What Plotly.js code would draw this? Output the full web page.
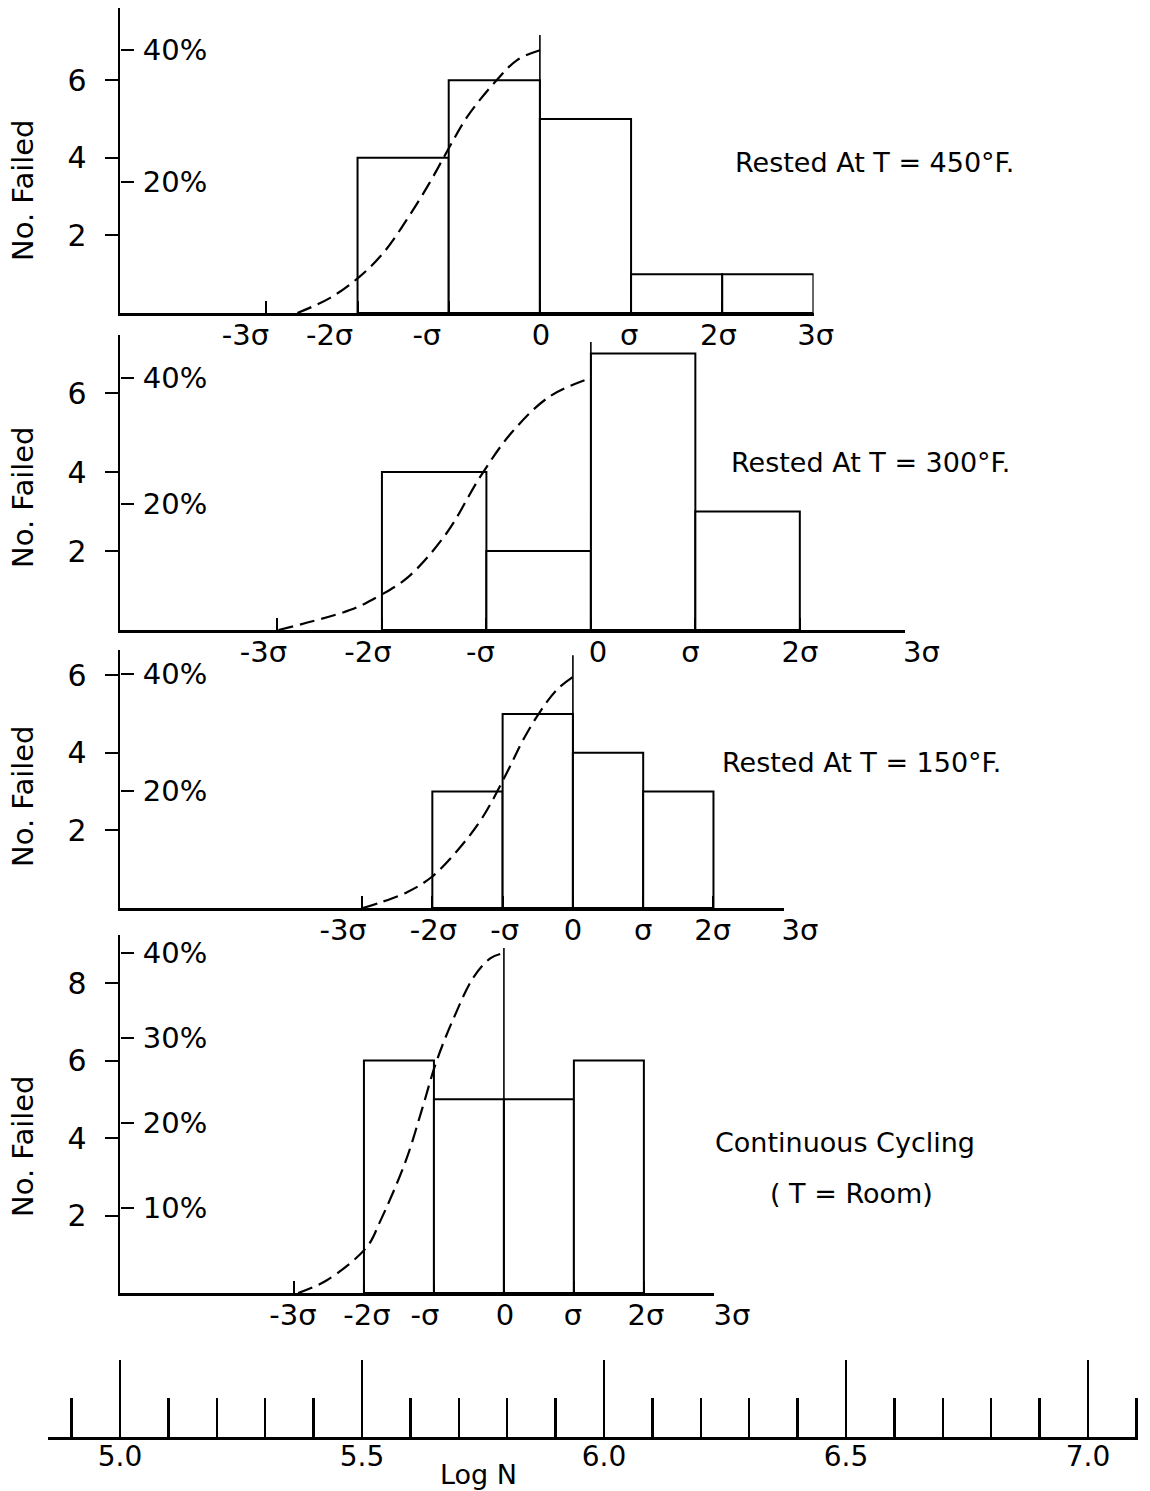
<!DOCTYPE html>
<html>
<head>
<meta charset="utf-8">
<script src="https://cdn.plot.ly/plotly-3.0.1.min.js"></script>
<style>html,body{margin:0;padding:0;background:#fff;}#chart{width:1150px;height:1491px;}</style>
</head>
<body>
<div id="chart"></div>
<script>
// ---------------- data ----------------
const sigmaTicks  = [-3, -2, -1, 0, 1, 2, 3];
const sigmaLabels = ['-3σ', '-2σ', '-σ', '0', 'σ', '2σ', '3σ'];

// histogram bins (left edge, in σ units) and number failed
const bins450 = [-2, -1, 0, 1, 2];
const counts450 = [4, 6, 5, 1, 1];
const bins300 = [-2, -1, 0, 1];
const counts300 = [4, 2, 7, 3];
const bins150 = [-2, -1, 0, 1];
const counts150 = [3, 5, 4, 3];
const binsRoom = [-2, -1, 0, 1];
const countsRoom = [6, 5, 5, 6];

// dashed normal curves (σ, percent)
const curveX450 = [-2.66, -2.30, -1.98, -1.72, -1.46, -1.21, -1.01, -0.80, -0.49, -0.25, 0];
const curveY450 = [0, 2.3, 5.5, 9.1, 14.2, 19.8, 24.8, 29.8, 35.2, 38.5, 40];
const curveX300 = [-2.99, -2.30, -2.05, -1.75, -1.38, -1.06, -0.76, -0.40, 0];
const curveY300 = [0, 3.2, 5.2, 8.4, 15.4, 24.3, 31.3, 37.0, 40];
const curveX150 = [-2.99, -2.75, -2.36, -2.01, -1.61, -1.28, -0.94, -0.71, -0.47, -0.23, 0];
const curveY150 = [0, 0.9, 2.7, 5.3, 10.3, 15.6, 23.1, 28.7, 33.5, 37.3, 39.5];
const curveXRoom = [-2.94, -2.53, -1.96, -1.77, -1.40, -1.16, -0.97, -0.73, -0.43, -0.19, 0];
const curveYRoom = [0, 1.5, 5.4, 8.4, 15.6, 21.9, 27.1, 32.1, 37.2, 39.4, 40];

// height (percent) of the solid line at the mean
const meanTop450 = 42.3, meanTop300 = 45.7, meanTop150 = 43.2, meanTopRoom = 40.6;

const countTicks = [2, 4, 6];
const countTicksRoom = [2, 4, 6, 8];
const pctTicks = [20, 40];
const pctLabels = ['20%', '40%'];
const pctTicksRoom = [10, 20, 30, 40];
const pctLabelsRoom = ['10%', '20%', '30%', '40%'];

const panelLabels = ['Rested At T = 450°F.', 'Rested At T = 300°F.', 'Rested At T = 150°F.', 'Continuous Cycling'];
const roomLabel = '( T = Room)';

// bottom Log N axis
const logNStart = 5.0, logNMajor = 0.5, logNMinor = 0.1;

// ---------------- layout geometry (pixels) ----------------
const W = 1150, H = 1491;
const FONT = 'DejaVu Sans';
const AX_X = 120;
const LAB_PAD = 60; // extra px to the right so the 3σ lettering is kept
// labShift: horizontal nudge (px) of each hand-lettered σ label from its tick
const panels = [
  {bins: bins450, counts: counts450, cx: curveX450, cy: curveY450, mt: meanTop450, cT: countTicks, pT: pctTicks, pL: pctLabels,
   top: 8, bottom: 313, c: 540, s: 91.2, cpx: 38.8, ppx: 6.57, titleY: 190, lab: [733, 162],
   labShift: [-21, -28, -22, 1, -2, -4, 2]},
  {bins: bins300, counts: counts300, cx: curveX300, cy: curveY300, mt: meanTop300, cT: countTicks, pT: pctTicks, pL: pctLabels,
   top: 335, bottom: 630, c: 591, s: 104.5, cpx: 39.5, ppx: 6.3, titleY: 497, lab: [729, 462],
   labShift: [-14, -14, -6, 7, -5, 0, 17]},
  {bins: bins150, counts: counts150, cx: curveX150, cy: curveY150, mt: meanTop150, cT: countTicks, pT: pctTicks, pL: pctLabels,
   top: 650, bottom: 908, c: 573, s: 70.3, cpx: 38.8, ppx: 5.85, titleY: 796, lab: [720, 762],
   labShift: [-19, 1, 2, 0, 0, -1, 16]},
  {bins: binsRoom, counts: countsRoom, cx: curveXRoom, cy: curveYRoom, mt: meanTopRoom, cT: countTicksRoom, pT: pctTicksRoom, pL: pctLabelsRoom,
   top: 935, bottom: 1293, c: 504, s: 70, cpx: 38.75, ppx: 8.5, titleY: 1146, lab: [713, 1142],
   labShift: [-1, 3, -9, 1, -1, 2, 18]}
];

const px = v => v / W;
const py = v => 1 - v / H;
const tickFont = {family: FONT, size: 29, color: '#000'};

const traces = [];
const layout = {
  width: W, height: H,
  margin: {l: 0, r: 0, t: 0, b: 0},
  paper_bgcolor: '#fff', plot_bgcolor: 'rgba(0,0,0,0)',
  showlegend: false,
  font: {family: FONT, color: '#000'},
  annotations: []
};

panels.forEach((p, i) => {
  const n = i + 1;
  const xa = 'x' + n, ya = 'y' + n, yp = 'y' + (n + 4);
  // bars
  traces.push({
    type: 'bar', x: p.bins, y: p.counts, width: 1, offset: 0,
    xaxis: xa, yaxis: ya,
    marker: {color: '#fff', line: {color: '#000', width: 2}},
    hoverinfo: 'skip'
  });
  // dashed curve
  traces.push({
    type: 'scatter', mode: 'lines', x: p.cx, y: p.cy,
    xaxis: xa, yaxis: yp,
    line: {color: '#000', width: 2.2, dash: '15px,7px', shape: 'spline', smoothing: 1},
    hoverinfo: 'skip'
  });
  // mean line
  traces.push({
    type: 'scatter', mode: 'lines', x: [0, 0], y: [0, p.mt],
    xaxis: xa, yaxis: yp,
    line: {color: '#000', width: 1.6},
    hoverinfo: 'skip'
  });

  // the σ axis ends at +3σ
  const xEnd = p.c + 3 * p.s;
  layout['xaxis' + (n === 1 ? '' : n)] = {
    domain: [px(AX_X), px(xEnd)],
    range: [(AX_X - p.c) / p.s, 3.002],
    anchor: ya,
    showline: true, linecolor: '#000', linewidth: 2.5,
    showgrid: false, zeroline: false,
    tickmode: 'array', tickvals: sigmaTicks, showticklabels: false,
    ticks: 'inside', ticklen: 12, tickwidth: 2, tickcolor: '#000',
    fixedrange: true
  };
  // label-only axis (hand-placed σ lettering): same px-per-σ scale, a little wider
  layout['xaxis' + (10 + n)] = {
    anchor: ya, side: 'bottom',
    domain: [px(AX_X), px(xEnd + LAB_PAD)],
    range: [(AX_X - p.c) / p.s, (xEnd + LAB_PAD - p.c) / p.s],
    showline: false, showgrid: false, zeroline: false, ticks: '',
    tickmode: 'array',
    tickvals: sigmaTicks.map((t, k) => t + p.labShift[k] / p.s),
    ticktext: sigmaLabels,
    tickfont: tickFont, ticklabelstandoff: 2,
    fixedrange: true
  };
  layout['yaxis' + (n === 1 ? '' : n)] = {
    domain: [py(p.bottom), py(p.top)],
    range: [0, (p.bottom - p.top) / p.cpx],
    anchor: xa, side: 'left',
    showline: true, linecolor: '#000', linewidth: 2.5,
    showgrid: false, zeroline: false,
    tickmode: 'array', tickvals: p.cT,
    ticks: 'outside', ticklen: 13, tickwidth: 2, tickcolor: '#000',
    tickfont: {family: FONT, size: 30, color: '#000'}, ticklabelstandoff: 12,
    fixedrange: true
  };
  layout['yaxis' + (n + 4)] = {
    overlaying: ya, anchor: 'free', position: px(AX_X), side: 'right',
    range: [0, (p.bottom - p.top) / p.ppx],
    showline: false, showgrid: false, zeroline: false,
    tickmode: 'array', tickvals: p.pT, ticktext: p.pL,
    ticks: 'outside', ticklen: 13, tickwidth: 2, tickcolor: '#000',
    tickfont: tickFont, ticklabelstandoff: 3,
    fixedrange: true
  };
  // an invisible point keeps each label-only axis alive
  traces.push({type: 'scatter', mode: 'markers', x: [0], y: [0], xaxis: 'x' + (10 + n), yaxis: ya,
    marker: {opacity: 0}, hoverinfo: 'skip'});

  layout.annotations.push({
    xref: 'paper', yref: 'paper', x: px(23), y: py(p.titleY),
    text: 'No. Failed', textangle: -90, showarrow: false,
    xanchor: 'center', yanchor: 'middle',
    font: {family: FONT, size: 29, color: '#000'}
  });
  layout.annotations.push({
    xref: 'paper', yref: 'paper', x: px(p.lab[0]), y: py(p.lab[1]),
    text: panelLabels[i], showarrow: false,
    xanchor: 'left', yanchor: 'middle',
    font: {family: FONT, size: 27, color: '#000'}
  });
});

layout.annotations.push({
  xref: 'paper', yref: 'paper', x: px(768), y: py(1193),
  text: roomLabel, showarrow: false, xanchor: 'left', yanchor: 'middle',
  font: {family: FONT, size: 27, color: '#000'}
});
layout.annotations.push({
  xref: 'paper', yref: 'paper', x: px(478), y: py(1474),
  text: 'Log N', showarrow: false, xanchor: 'center', yanchor: 'middle',
  font: {family: FONT, size: 27, color: '#000'}
});

// bottom Log N scale (one Log N unit = 484 px, 5.0 at x=120)
const LPX = 484;
const axL = 48, axR = 1138;
layout.xaxis5 = {
  domain: [px(axL), px(axR)],
  range: [logNStart + (axL - AX_X) / LPX, logNStart + (axR - AX_X) / LPX],
  anchor: 'y9',
  showline: true, linecolor: '#000', linewidth: 3,
  showgrid: false, zeroline: false,
  tickmode: 'linear', tick0: logNStart, dtick: logNMajor, tickformat: '.1f',
  ticks: 'inside', ticklen: 77, tickwidth: 2.5, tickcolor: '#000',
  minor: {ticks: 'inside', ticklen: 39, tickwidth: 2.5, tickcolor: '#000', tick0: logNStart, dtick: logNMinor, showgrid: false},
  tickfont: {family: FONT, size: 28, color: '#000'}, ticklabelstandoff: -8,
  fixedrange: true
};
layout.yaxis9 = {
  domain: [py(1437), py(1437) + 0.06],
  range: [0, 1], visible: false, anchor: 'x5', fixedrange: true
};
// an invisible point to keep the Log N subplot alive
traces.push({type: 'scatter', mode: 'markers', x: [logNStart], y: [0.5], xaxis: 'x5', yaxis: 'y9',
  marker: {opacity: 0}, hoverinfo: 'skip'});

Plotly.newPlot('chart', traces, layout, {staticPlot: true, displayModeBar: false});
</script>
</body>
</html>
